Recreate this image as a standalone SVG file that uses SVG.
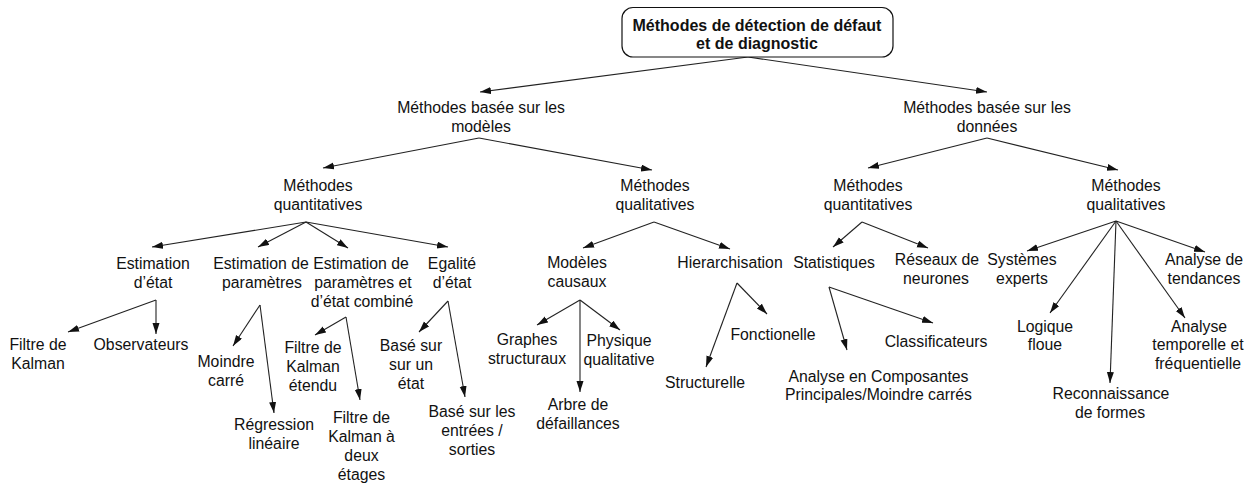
<svg xmlns="http://www.w3.org/2000/svg" width="1253" height="486" viewBox="0 0 1253 486">
<defs>
<marker id="ah" markerUnits="userSpaceOnUse" markerWidth="12" markerHeight="8" refX="11" refY="3.5" orient="auto">
<path d="M0,0 L11,3.5 L0,7 z" fill="#111"/>
</marker>
<style>
text{font-family:"Liberation Sans",Arial,sans-serif;font-size:15.8px;fill:#111;text-anchor:middle}
.title{font-weight:bold;font-size:16px}
.box{fill:#fff;stroke:#111;stroke-width:1.2}
#connectors line{stroke:#222;stroke-width:1.1;marker-end:url(#ah)}
</style>
</defs>
<rect width="1253" height="486" fill="#fff"/>
<g id="connectors">
<line x1="748" y1="57" x2="480" y2="92"/>
<line x1="748" y1="57" x2="987" y2="92"/>
<line x1="479" y1="138" x2="323" y2="168"/>
<line x1="479" y1="138" x2="652" y2="170"/>
<line x1="987" y1="138" x2="868" y2="168"/>
<line x1="987" y1="138" x2="1118" y2="170"/>
<line x1="306" y1="222" x2="152" y2="247"/>
<line x1="306" y1="222" x2="258" y2="247"/>
<line x1="306" y1="222" x2="348" y2="248"/>
<line x1="306" y1="222" x2="448" y2="247"/>
<line x1="654" y1="222" x2="583" y2="248"/>
<line x1="654" y1="222" x2="730" y2="249"/>
<line x1="862" y1="222" x2="833" y2="247"/>
<line x1="862" y1="222" x2="928" y2="248"/>
<line x1="1116" y1="221" x2="1027" y2="251"/>
<line x1="1116" y1="221" x2="1050" y2="313"/>
<line x1="1116" y1="221" x2="1110" y2="383"/>
<line x1="1116" y1="221" x2="1185" y2="318"/>
<line x1="1116" y1="221" x2="1205" y2="252"/>
<line x1="156" y1="300" x2="68" y2="332"/>
<line x1="156" y1="300" x2="156" y2="334"/>
<line x1="260" y1="305" x2="233" y2="346"/>
<line x1="260" y1="305" x2="274" y2="413"/>
<line x1="346" y1="317" x2="315" y2="335"/>
<line x1="346" y1="317" x2="360" y2="400"/>
<line x1="448" y1="301" x2="419" y2="332"/>
<line x1="448" y1="301" x2="465" y2="397"/>
<line x1="580" y1="300" x2="537" y2="325"/>
<line x1="580" y1="300" x2="580" y2="392"/>
<line x1="580" y1="300" x2="620" y2="330"/>
<line x1="737" y1="283" x2="767" y2="314"/>
<line x1="737" y1="283" x2="706" y2="367"/>
<line x1="829" y1="287" x2="847" y2="350"/>
<line x1="829" y1="287" x2="933" y2="323"/>
</g>
<g id="root">
<rect class="box" x="622" y="7.5" width="271" height="49.5" rx="11"/>
<text class="title"><tspan x="757" y="30.5">Méthodes de détection de défaut</tspan><tspan x="757" y="48.5">et de diagnostic</tspan></text>
</g>
<g id="modeles"><text><tspan x="481" y="113">Méthodes basée sur les</tspan><tspan x="481" y="132">modèles</tspan></text></g>
<g id="donnees"><text><tspan x="987" y="113">Méthodes basée sur les</tspan><tspan x="987" y="132">données</tspan></text></g>
<g id="mod-quant"><text><tspan x="318" y="191">Méthodes</tspan><tspan x="318" y="210">quantitatives</tspan></text></g>
<g id="mod-qual"><text><tspan x="655" y="191">Méthodes</tspan><tspan x="655" y="210">qualitatives</tspan></text></g>
<g id="don-quant"><text><tspan x="868" y="191">Méthodes</tspan><tspan x="868" y="210">quantitatives</tspan></text></g>
<g id="don-qual"><text><tspan x="1126" y="191">Méthodes</tspan><tspan x="1126" y="210">qualitatives</tspan></text></g>
<g id="est-etat"><text><tspan x="153" y="269">Estimation</tspan><tspan x="153" y="288">d’état</tspan></text></g>
<g id="est-param"><text><tspan x="261" y="269">Estimation de</tspan><tspan x="262" y="288">paramètres</tspan></text></g>
<g id="est-comb"><text><tspan x="361" y="269">Estimation de</tspan><tspan x="363" y="288">paramètres et</tspan><tspan x="362" y="307">d’état combiné</tspan></text></g>
<g id="egalite"><text><tspan x="452" y="269">Egalité</tspan><tspan x="452" y="288">d’état</tspan></text></g>
<g id="kalman"><text><tspan x="38" y="350">Filtre de</tspan><tspan x="38" y="369">Kalman</tspan></text></g>
<g id="observateurs"><text><tspan x="141" y="350">Observateurs</tspan></text></g>
<g id="moindre"><text><tspan x="226" y="367">Moindre</tspan><tspan x="226" y="386">carré</tspan></text></g>
<g id="regression"><text><tspan x="274" y="430">Régression</tspan><tspan x="274" y="449">linéaire</tspan></text></g>
<g id="kalman-etendu"><text><tspan x="313" y="353">Filtre de</tspan><tspan x="313" y="372">Kalman</tspan><tspan x="313" y="391">étendu</tspan></text></g>
<g id="kalman-deux"><text><tspan x="361.5" y="423">Filtre de</tspan><tspan x="361.5" y="442">Kalman à</tspan><tspan x="361.5" y="461">deux</tspan><tspan x="361.5" y="480">étages</tspan></text></g>
<g id="base-etat"><text><tspan x="411" y="351">Basé sur</tspan><tspan x="411" y="370">sur un</tspan><tspan x="411" y="389">état</tspan></text></g>
<g id="base-entrees"><text><tspan x="472" y="417">Basé sur les</tspan><tspan x="472" y="436">entrées /</tspan><tspan x="472" y="455">sorties</tspan></text></g>
<g id="causaux"><text><tspan x="577" y="268">Modèles</tspan><tspan x="577" y="287">causaux</tspan></text></g>
<g id="hierarchisation"><text><tspan x="730" y="268">Hierarchisation</tspan></text></g>
<g id="graphes"><text><tspan x="527" y="345">Graphes</tspan><tspan x="527" y="364">structuraux</tspan></text></g>
<g id="physique"><text><tspan x="619" y="346">Physique</tspan><tspan x="619" y="365">qualitative</tspan></text></g>
<g id="arbre"><text><tspan x="578" y="410">Arbre de</tspan><tspan x="578" y="429">défaillances</tspan></text></g>
<g id="fonctionelle"><text><tspan x="773" y="340">Fonctionelle</tspan></text></g>
<g id="structurelle"><text><tspan x="705" y="388">Structurelle</tspan></text></g>
<g id="statistiques"><text><tspan x="834" y="268">Statistiques</tspan></text></g>
<g id="reseaux"><text><tspan x="937" y="265">Réseaux de</tspan><tspan x="936" y="284">neurones</tspan></text></g>
<g id="classificateurs"><text><tspan x="936" y="347">Classificateurs</tspan></text></g>
<g id="acp"><text><tspan x="878.5" y="382">Analyse en Composantes</tspan><tspan x="878.5" y="400">Principales/Moindre carrés</tspan></text></g>
<g id="experts"><text><tspan x="1022" y="265">Systèmes</tspan><tspan x="1022" y="284">experts</tspan></text></g>
<g id="tendances"><text><tspan x="1204" y="265">Analyse de</tspan><tspan x="1204" y="284">tendances</tspan></text></g>
<g id="floue"><text><tspan x="1045" y="332">Logique</tspan><tspan x="1045" y="350">floue</tspan></text></g>
<g id="formes"><text><tspan x="1111" y="399">Reconnaissance</tspan><tspan x="1110" y="418">de formes</tspan></text></g>
<g id="temporelle"><text><tspan x="1199" y="332">Analyse</tspan><tspan x="1198" y="350">temporelle et</tspan><tspan x="1198" y="369">fréquentielle</tspan></text></g>
</svg>
